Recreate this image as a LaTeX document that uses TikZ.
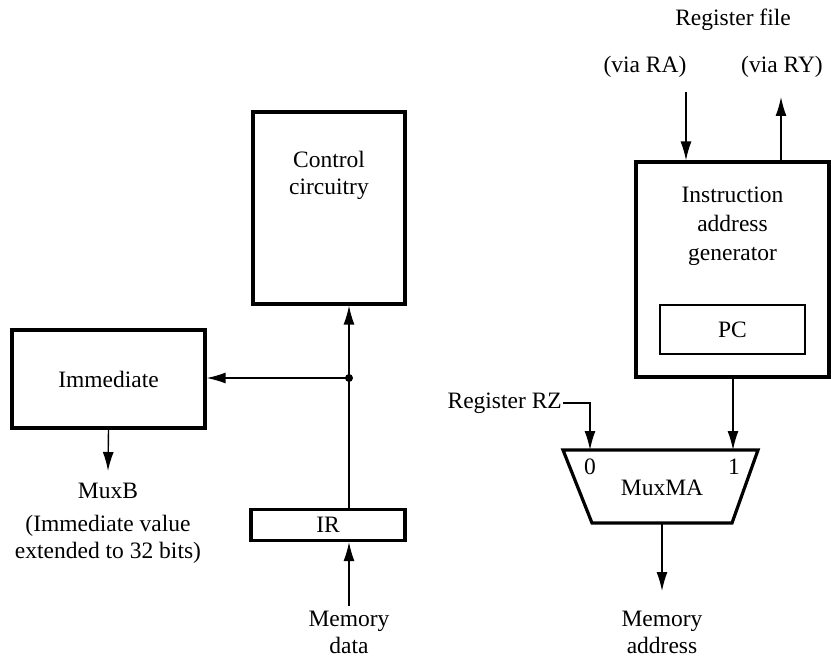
\documentclass[tikz,border=0pt]{standalone}
\usepackage{fontspec}
\setmainfont{Liberation Serif}
\usetikzlibrary{arrows.meta,positioning,calc}

\begin{document}
\begin{tikzpicture}[x=1pt, y=-1pt,
    font=\fontsize{23.5}{27}\selectfont,
    blk/.style={draw, line width=3.2pt, inner sep=0pt},
    wire/.style={-{Latex[length=19pt,width=11pt]}, line width=1.4pt},
    txt/.style={align=center, inner sep=1pt}]
  \useasboundingbox (0,0) rectangle (831,658);

  % boxes
  \node[blk, minimum width=152pt, minimum height=192pt] (ctrl) at (329,208) {};
  \node[txt] (ctrltext) at (329,175) {Control\\circuitry};
  \node[blk, minimum width=193pt, minimum height=98pt] (imm) at (108.5,379) {Immediate};
  \node[blk, minimum width=154pt, minimum height=31pt] (ir) at (328,525) {IR};
  \node[blk, minimum width=193pt, minimum height=215pt] (iag) at (732.5,269.5) {};
  \node[txt, font=\fontsize{23.5}{29}\selectfont] (iagtext) at (732.5,226) {Instruction\\address\\generator};
  \node[draw, line width=1.4pt, minimum width=145pt, minimum height=49pt] (pc) at (732.5,329.5) {PC};

  % MuxMA
  \draw[line width=3.2pt] (563,450) -- (758,450) -- (732,523) -- (592,523) -- cycle;
  \node (mux) at (662,488) {MuxMA};
  \node (sel0) at (590,467) {0};
  \node (sel1) at (734,467) {1};
  \coordinate (in0) at (590,450);
  \coordinate (in1) at (733,450);
  \coordinate (muxout) at (662,523);

  % texts
  \node[txt] (regfile) at (733,20) {Register file};
  \node[txt] (viara) at (645,67) {(via RA)};
  \node[txt] (viary) at (782,67) {(via RY)};
  \node[txt, anchor=east] (rz) at (563,403) {Register RZ};
  \node[txt] (muxb) at (108,491) {MuxB};
  \node[txt] (immnote) at (108,539) {(Immediate value\\extended to 32 bits)};
  \node[txt] (mdata) at (349,632) {Memory\\data};
  \node[txt] (maddr) at (662,632) {Memory\\address};

  \coordinate (ra) at (686,92);
  \coordinate (ry) at (781,97);
  \coordinate (j) at (349,378);

  % connections
  \draw[wire] (ir.north -| j) -- (ctrl.south -| j);
  \draw[wire] (j) -- (imm.east |- j);
  \fill (j) circle (4pt);
  \draw[wire] (mdata.north) ++(0,-3) -- (ir.south -| mdata);
  \draw[wire] (imm.south) -- (108,471);
  \draw[wire] (ra) -- (iag.north -| ra);
  \draw[wire] (iag.north -| ry) -- (ry);
  \draw[wire] (rz.east) -| (in0);
  \draw[wire] (iag.south -| in1) -- (in1);
  \draw[wire] (muxout) -- (662,591);
\end{tikzpicture}
\end{document}
